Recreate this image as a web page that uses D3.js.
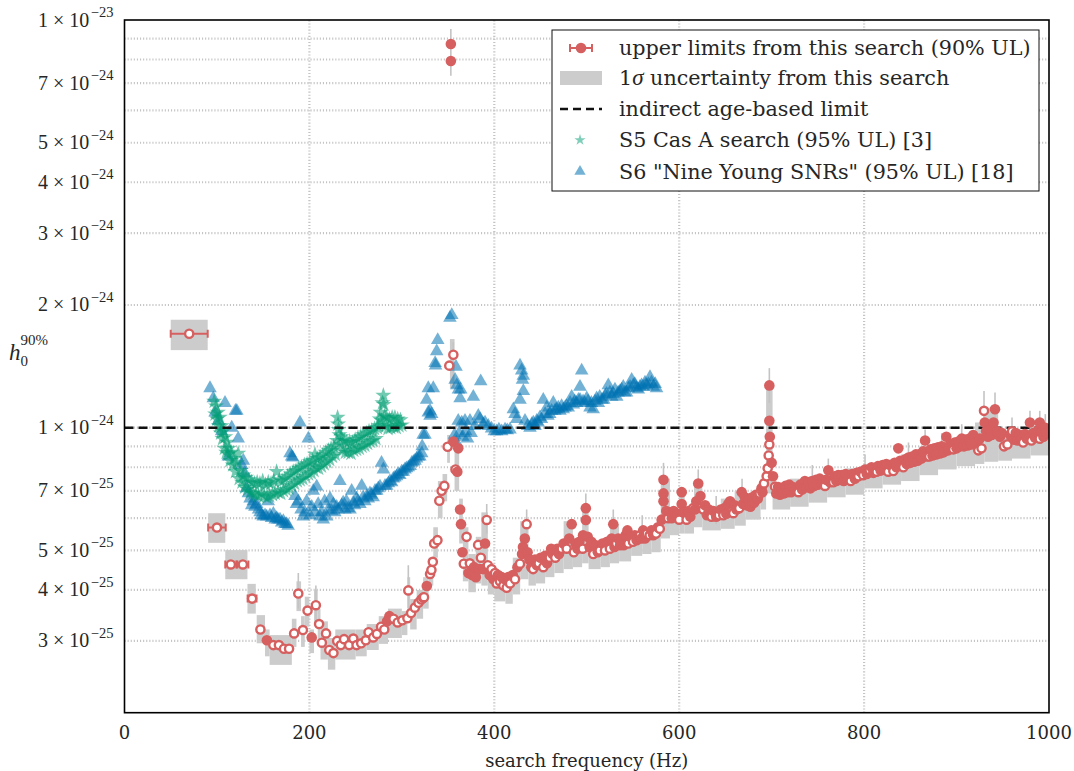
<!DOCTYPE html>
<html>
<head>
<meta charset="utf-8">
<script src="https://cdn.jsdelivr.net/npm/d3@7"></script>
<style>
  body { margin: 0; background: #fff; }
  text { font-family: "DejaVu Serif", serif; fill: #262626; }
  .math { font-family: "Liberation Serif", serif; }
</style>
</head>
<body>
<svg id="viz"></svg>
<script>
// ---- data (h0 values in units of 1e-25) ----
const xTicks = [0, 200, 400, 600, 800, 1000];
const yGridValues = [2, 3, 4, 5, 6, 7, 8, 9, 10, 20, 30, 40, 50, 60, 70, 80, 90, 100];
const yTickLabels = [3, 4, 5, 7, 10, 20, 30, 40, 50, 70, 100];
const ageLimit = 10;

// [frequency, h0, open marker]
const upperLimits = [
  [70,17.0,1],[100,5.69,1],[115,4.62,1],[128,4.62,1],[138,3.81,1],[147,3.20,1],
  [154,3.01,0],[161,2.93,1],[167,2.93,1],[172.5,2.87,1],[178,2.87,1],[183.5,3.13,1],
  [188,3.92,1],[193,3.19,1],[198,3.56,1],[202.5,3.06,0],[207,3.67,1],[210.5,3.30,1],
  [213.5,2.97,1],[218,3.13,1],[221.5,2.85,1],[226,2.80,1],[230,3.00,1],[234,2.93,1],
  [237.5,3.03,1],[243,2.93,1],[247.5,3.04,1],[251,2.93,1],[256,2.96,1],[261,3.01,1],
  [264,3.15,1],[269,3.06,1],[273,3.12,1],[277.5,3.25,1],[281,3.20,1],[284,3.35,0],
  [286.5,3.45,0],[288,3.40,0],[291,3.40,1],[295.5,3.33,1],[300.5,3.37,1],[306,3.41,1],
  [307,3.99,1],[310,3.51,1],[314,3.62,1],[318,3.72,1],[321,3.79,1],[323,3.83,0],
  [324,3.84,1],[327,4.09,0],[330.5,4.38,1],[332,4.48,1],[333.5,4.69,1],[335,5.20,1],
  [338.5,5.30,1],[340.5,6.62,1],[343,7.00,1],[346,7.20,1],[349.5,8.98,1],[351.3,14.2,1],
  [353,87.3,0],[353,79.3,0],[355.7,9.25,0],[355.7,15.1,1],[358,7.9,1],[360,7.8,0],
  [361,8.9,0],[363,6.3,0],[364,5.8,0],[365.5,4.95,0],[367,4.64,1],[370,5.4,1],
  [372,4.4,0],[373.5,4.65,1],[376,4.35,0],[378,4.55,0],[380,4.3,0],[382.5,5.16,1],
  [384,4.5,0],[385.5,4.8,1],[388,4.5,0],[390,5.2,0],[391.8,5.94,1],[393,4.6,1],
  [395,4.35,0],[397,4.5,1],[399,4.25,0],[400.8,4.4,1],[402.6,4.15,1],[404,4.35,0],
  [406,4.2,1],[408,4.3,0],[409.7,4.1,1],[411.5,4.25,0],[413.4,4.05,1],[415,4.3,0],
  [417,4.15,1],[420,4.35,0],[422.4,4.25,1],[425,4.55,0],[427.8,4.64,1],[430,4.9,0],
  [431,5.1,0],[433,5.35,0],[435,5.8,1],[436,4.95,0],[438,4.75,0],[440,4.55,0],
  [442,4.5,1],[444,4.75,0],[446,4.6,0],[448,4.65,1],[450,4.8,0],[453,4.55,1],
  [455,4.85,0],[457,4.65,0],[460,4.8,1],[461.5,5.05,0],[463,4.9,0],[466,4.8,1],
  [468,5.05,0],[470,4.9,0],[473,5.05,1],[475,5.2,0],[478.3,5.05,1],[481,5.35,0],
  [483.7,5.8,0],[486,4.95,1],[488,5.2,0],[490,5.05,0],[492,5.25,0],[495.6,5.05,1],
  [496,5.45,0],[499,6.35,0],[499,5.94,0],[501,5.4,0],[503,5.1,0],[505,5.25,0],
  [507,4.9,1],[510,5.15,0],[512,4.95,0],[514,5.0,1],[517,5.2,0],[519.7,5.0,1],
  [522,5.25,0],[525,5.05,1],[527,5.35,0],[528.7,5.8,0],[530,5.1,0],[532,5.2,1],
  [534,5.35,0],[536,5.15,0],[538,5.3,0],[540,5.15,0],[542,5.45,0],[544,5.6,0],
  [545,5.2,1],[547,5.4,0],[550,5.25,1],[552,5.45,0],[554,5.3,0],[557.6,5.45,1],
  [559,5.35,0],[561,5.6,0],[563,5.35,0],[565,5.5,1],[568,5.45,1],[570,5.6,0],
  [572,5.45,0],[575,5.5,1],[577,5.7,0],[579,5.65,1],[581,5.95,0],[583,6.6,0],
  [583,6.9,0],[583,7.45,0],[586,6.25,0],[588,6.0,1],[590,6.2,0],[592,6.0,0],
  [594,6.25,0],[596,6.1,0],[598,6.15,0],[600,5.95,1],[602.7,6.5,0],[602.7,6.95,0],
  [605,6.2,0],[608,5.95,1],[610,6.25,0],[612,6.05,0],[615,6.35,1],[617,6.3,0],
  [618.5,6.6,0],[620.6,7.3,0],[623,6.8,0],[626,6.3,1],[628,6.45,0],[630,6.1,0],
  [632,6.3,0],[635,6.05,1],[637,6.25,0],[640,6.05,0],[643,6.1,1],[645,6.3,0],
  [647.7,6.1,1],[649,6.35,0],[651,6.15,0],[653,6.5,0],[655,6.6,0],[658.5,6.17,1],
  [660,6.45,0],[662,6.3,0],[665,6.35,1],[667.6,6.95,0],[669,6.5,0],[671,6.75,0],
  [673,6.45,0],[675,6.65,0],[677,6.4,0],[679,6.75,0],[681,6.55,0],[683,6.85,0],
  [685,6.7,0],[687,6.9,1],[689,7.1,0],[690,6.95,0],[691.7,7.3,1],[694.6,7.6,1],
  [695.7,7.95,1],[696.8,8.55,1],[697.5,9.1,1],[698,9.5,0],[697.5,10.4,0],[697.5,12.7,0],
  [700,8.2,0],[701.5,7.6,0],[703.6,7.17,1],[705,6.9,0],[707,7.15,0],[709,6.85,0],
  [711,7.1,0],[713,6.9,0],[715,7.2,0],[717,6.95,0],[719,7.25,0],[721,6.95,0],
  [723,7.15,0],[726,7.0,0],[729,6.95,1],[731,7.25,0],[733,7.05,0],[736,7.4,0],
  [738,7.15,0],[740,7.35,0],[742,7.1,0],[744,7.4,0],[746,7.2,0],[748,7.45,0],
  [750,7.25,0],[752,7.5,0],[754,7.3,0],[757.7,7.2,1],[759,7.45,0],[761.3,7.86,0],
  [763,7.35,0],[766.7,7.35,1],[768,7.6,0],[770,7.4,0],[772,7.65,0],[774,7.45,0],
  [776,7.65,0],[778,7.4,0],[780,7.7,0],[782,7.5,0],[785.5,7.4,1],[787,7.7,0],
  [790,7.5,0],[792,7.75,0],[793.8,7.6,1],[796,7.8,0],[799,7.65,1],[801,7.9,0],
  [803,7.7,0],[806,7.86,1],[808,8.0,0],[810,7.75,0],[813.6,7.8,1],[815,8.05,0],
  [818,7.85,0],[820,8.1,0],[822,7.9,0],[824,8.15,0],[826,7.8,1],[828,8.1,0],
  [831.6,7.83,1],[833,8.2,0],[835,8.0,0],[837,8.9,0],[839,8.3,0],[842.4,8.0,1],
  [844,8.35,0],[846,8.15,0],[848,8.45,0],[850,8.2,0],[852,8.5,0],[854,8.25,0],
  [856,8.6,0],[858,8.3,0],[860,8.6,0],[862,8.4,0],[864,8.75,0],[866,9.3,0],
  [868,8.5,0],[870.5,8.5,1],[872,8.85,0],[874,8.55,0],[876,8.9,0],[878,8.6,0],
  [880,8.95,0],[882,8.65,0],[884,9.0,0],[886,8.7,0],[889,9.5,0],[891,8.8,0],
  [893,9.1,0],[896.5,8.85,1],[898,9.2,0],[900,8.9,0],[902,9.25,0],[904,9.0,0],
  [905.6,9.4,0],[908,9.0,0],[910,9.35,0],[912,9.05,0],[914,9.4,0],[916,9.1,0],
  [918,9.6,0],[921,9.2,0],[923.5,8.8,1],[925,9.4,0],[927,8.9,1],[929.7,11.0,1],
  [930.5,10.3,0],[932,9.8,0],[934,9.5,0],[936,9.9,0],[938,9.6,0],[940,10.3,0],
  [941.6,11.1,0],[944,9.8,0],[947,9.5,0],[949,9.7,0],[951.3,9.0,1],[955,9.1,1],
  [958,9.6,0],[960,9.8,1],[962,9.35,0],[964,9.7,0],[966,9.3,0],[968,9.6,0],
  [970,9.35,0],[972,9.2,1],[974,9.65,0],[976,9.4,0],[979.4,10.3,0],[981,9.3,1],
  [983,9.7,0],[985,9.45,0],[988,9.85,0],[990,10.3,0],[990,9.4,1],[992,9.75,0],
  [994,9.5,0],[996,10.0,0],[997.5,9.7,0]
];

// horizontal bin half-widths for the wide low-frequency bins
const wideBins = [[70, 20], [100, 9.5], [115, 6], [128, 6], [138, 4.8]];

// 1-sigma boxes: [f0, f1, lo, hi]
const sigmaBoxes = [
  [50,90,15.5,18.4],[90.5,109,5.22,6.17],[109,133,4.25,5.01],[133,142,3.50,4.14],
  [143,152,2.96,3.47],[152,157,2.75,3.2],[157,181,2.62,3.1],[181,186,2.9,3.4],
  [186,191,3.55,4.2],[191,195,2.9,3.45],[195,200,3.25,3.85],[200,205,2.8,3.2],
  [205,209,3.3,4.0],[209,212,3.0,3.6],[212,220,2.7,3.35],[220,228,2.55,3.05],
  [228,250,2.7,3.2],[250,262,2.75,3.2],[262,275,2.85,3.3],[275,285,2.95,3.45],
  [285,300,3.05,3.6],[300,306,3.1,3.55],[306,309,3.6,4.3],[309,316,3.2,3.8],
  [316,323,3.4,4.0],[323,329,3.6,4.3],[329,334,4.1,4.8],[334,339,4.8,5.7],
  [339,344,6.0,7.4],[344,349,6.6,7.7],[349,352,8.2,9.6],[352,357,12.5,16.5],
  [357,362,7.0,9.4],[362,366,5.2,6.7],[366,372,4.2,5.7],[372,380,3.95,4.9],
  [380,386,4.15,5.4],[386,393,4.1,6.2],[393,400,3.9,4.6],[400,412,3.75,4.4],
  [412,420,3.7,4.4],[420,428,3.9,4.8],[428,437,4.25,5.9],[437,445,4.1,4.8],
  [445,455,4.15,4.85],[455,465,4.3,5.0],[465,475,4.4,5.15],[475,485,4.5,5.9],
  [485,495,4.55,5.25],[495,502,4.65,6.4],[502,515,4.5,5.2],[515,525,4.55,5.25],
  [525,535,4.65,5.8],[535,548,4.7,5.4],[548,560,4.85,5.55],[560,570,4.9,5.65],
  [570,580,4.95,5.75],[580,590,5.35,7.5],[590,600,5.45,6.3],[600,606,5.5,7.0],
  [606,616,5.5,6.4],[616,625,5.7,7.3],[625,645,5.6,6.35],[645,660,5.65,6.7],
  [660,672,5.75,7.0],[672,688,5.95,6.9],[688,694,6.3,7.5],[694,701,6.9,12.8],
  [701,720,6.3,7.3],[720,740,6.4,7.5],[740,760,6.55,7.6],[760,780,6.75,7.8],
  [780,800,6.85,7.95],[800,820,7.1,8.15],[820,840,7.25,8.3],[840,860,7.4,8.6],
  [860,880,7.65,9.0],[880,900,7.9,9.2],[900,920,8.05,9.5],[920,930,8.15,10.3],
  [930,945,8.25,11.2],[945,960,8.3,9.8],[960,980,8.4,9.9],[980,1000,8.55,10.1]
];

// vertical error bars that stick out of the band: [f, lo, hi]
const whiskers = [
  [353,73,95],[355.7,12.7,16.2],[188,3.6,4.4],[207,3.3,4.1],[307,3.6,4.6],
  [391.8,5.5,6.5],[435,5.2,6.3],[499,5.7,6.9],[583,6.6,8.2],[620.6,6.6,7.9],
  [697.5,11.5,14.0],[929.7,10.2,12.3],[941.6,10.2,12.2],[866,8.6,9.9],
  [761.3,7.2,8.4],[979.4,9.6,11.0],[990,9.5,11.0],[528.7,5.3,6.3],
  [640,5.8,6.8],[668,6.3,7.5],[744,7.0,8.1],[801,7.5,8.6],[848,8.0,9.2],
  [884,8.5,9.7],[905.6,8.9,10.2],[960,9.3,10.6],[996,9.5,10.8],[560,5.2,6.1]
];

// S5 Cas A search (95% UL): [f, h0]
const s5CasA = [
  [97,11.6],[98,10.8],[99,11.3],[100,10.5],[101,10.9],[102,10.1],[103,10.6],[104,9.7],
  [105,10.1],[106,9.4],[107,9.8],[108,8.9],[109,9.5],[110,8.7],[111,9.2],[112,8.6],
  [113,8.9],[114,8.3],[115.5,8.7],[117,8.1],[118.5,8.4],[120,7.8],[121.5,8.2],[123,8.65],
  [124,7.5],[125.5,7.85],[127,7.35],[128.5,7.65],[130,7.15],[131.5,7.55],[133,7.05],[134.5,7.45],
  [136,6.95],[137.5,7.35],[139,6.9],[140.5,7.3],[142,6.85],[143.5,7.35],[145,6.8],[146.5,7.3],
  [148,6.9],[149.5,7.4],[151,6.8],[152.5,7.25],[154,6.75],[155.5,7.35],[157,6.8],[158.5,7.3],
  [160,6.85],[161.5,7.4],[163,6.9],[164.5,7.8],[166,6.95],[167.5,7.45],[169,6.9],[170.5,7.4],
  [172,7.0],[173.5,7.5],[175,7.05],[176.5,7.6],[178,7.1],[179.5,7.7],[181,7.2],[182.5,7.8],
  [184,7.3],[185.5,7.85],[187,7.4],[188.5,7.95],[190,7.45],[191.5,8.0],[193,7.5],[194.5,8.1],
  [196,7.6],[197.5,8.15],[199,7.7],[200.5,8.25],[202,7.75],[203.5,8.3],[205,7.85],[206,8.6],
  [207,8.0],[208.5,8.4],[210,7.95],[211.5,8.45],[213,8.05],[214.5,8.55],[216,8.15],[217.5,8.7],
  [219,8.25],[220.5,8.8],[222,8.35],[223.5,8.9],[225,8.5],[226.5,9.0],[228,8.6],[229.5,9.3],
  [230.5,10.6],[231,10.2],[231.5,9.9],[232.5,9.6],[233.5,9.1],[234.5,9.5],[236,8.8],[237.5,9.3],
  [239,8.7],[240.5,9.2],[242,8.7],[243.5,9.25],[245,8.65],[246.5,9.2],[248,8.8],[249.5,9.35],
  [251,8.85],[252.5,9.45],[254,8.9],[255.5,9.5],[257,9.0],[258.5,9.6],[260,9.05],[261.5,9.7],
  [263,9.15],[264.5,9.8],[266,9.25],[267.5,9.85],[269,9.3],[270.5,9.95],[272,9.4],[273.5,10.0],
  [275,10.1],[276,10.5],[277,10.9],[278,10.4],[279,11.5],[280,12.0],[280.5,11.4],[281.5,10.7],
  [282.5,10.1],[283.5,10.6],[285,9.95],[286.5,10.5],[288,10.0],[289.5,10.6],[291,10.05],[292.5,10.6],
  [294,10.0],[295.5,10.5],[297,10.1],[298.5,10.45],[300,10.15]
];

// S6 "Nine Young SNRs" (95% UL): [f, h0]
const s6Snrs = [
  [92.5,12.5],[96,11.8],[98,10.9],[101.5,10.4],[105,9.8],[108.7,11.5],[112.3,8.5],[116,10.0],
  [120,11.0],[121.5,11.0],[123,9.4],[126.8,8.1],[128.5,8.3],[130,7.73],[132,7.1],[134,6.9],
  [135.8,6.7],[137.6,6.45],[139.3,6.6],[141,6.4],[143,6.5],[145,6.3],[146.6,6.2],[148,6.1],
  [150,6.05],[152,6.1],[153.8,6.05],[155.5,6.6],[157.4,6.1],[159,6.0],[161,6.15],[163,5.95],
  [164.6,6.0],[166,5.95],[168.2,5.95],[170,5.85],[171.8,5.9],[173.5,5.8],[175.4,5.8],[177,5.75],
  [179,8.65],[180.8,8.5],[182,8.45],[184.4,6.8],[186,6.5],[188,6.6],[189.8,10.3],[191,6.3],
  [193.4,6.05],[195,6.2],[197,6.6],[198.8,9.4],[200.5,6.1],[202.5,6.4],[204.2,7.0],[206,6.2],
  [207.9,7.17],[209.5,6.5],[211.5,6.05],[213,6.2],[215,5.95],[216.5,6.6],[218.7,6.05],[220.5,6.3],
  [222.3,6.7],[224,6.25],[226,6.5],[227.5,6.2],[229.5,6.4],[231,6.3],[233,7.4],[235,6.45],
  [236.5,6.55],[238.5,6.3],[240,6.6],[242,6.35],[244,6.3],[245.7,7.0],[247.5,6.55],[249,6.45],
  [251,6.7],[252.5,6.6],[254.7,6.5],[256.6,7.2],[258,6.75],[260,6.6],[262,6.8],[263.7,6.7],
  [265.5,6.9],[267,6.85],[269,6.75],[271,7.0],[272.8,7.0],[274.5,7.1],[276.4,7.17],[278,8.2],
  [280,7.9],[281.8,7.2],[283.6,7.2],[285.5,7.3],[287.2,7.4],[289,7.35],[290.8,7.5],[292.5,7.55],
  [294.4,7.6],[296,7.7],[297.8,7.65],[299.8,7.8],[301.5,7.8],[303.4,7.9],[305,7.95],[307,8.0],
  [309,8.05],[310.7,8.2],[312.5,8.25],[314.2,8.3],[316,8.4],[317.8,8.5],[319.5,8.5],[321.5,8.65],
  [322,9.0],[323,9.6],[325,9.6],[326.8,11.7],[328.6,12.5],[328.6,10.9],[330.5,11.0],[330.5,10.7],
  [332.3,10.8],[334,12.5],[336,14.4],[336.5,14.2],[337.7,15.4],[338.8,16.4],[352,18.6],[354,18.9],
  [357.6,13.1],[358.6,14.1],[359.4,12.7],[361.2,12.4],[363,11.8],[363.7,12.4],
  [357,9.6],[359,9.2],[362,9.7],[366,9.5],[369,9.8],[371,9.4],[375,9.7],
  [361,10.4],[364.8,10.3],[368.3,10.4],[373.7,10.4],[377.3,11.9],[379,10.1],[382.7,10.7],[384.5,10.5],
  [385.3,13.0],[388,10.2],[390,10.3],[393.5,10.1],[397,9.95],[400,9.8],[402.6,9.8],[405,9.9],
  [408,9.8],[411.6,9.9],[414,9.85],[417,9.9],[420.6,11.1],[422.4,10.8],[424.2,10.5],[427.8,14.2],
  [429.6,13.8],[431.4,13.4],[430.5,13.1],[431.4,12.3],[427.8,11.7],[433.2,10.4],[436,10.1],[438.6,10.0],
  [440.5,10.2],[442.2,10.3],[444,10.1],[445.9,10.4],[447.5,10.3],[449.4,10.6],[451,10.5],[453,11.7],
  [455,10.8],[456.7,11.2],[458,10.7],[460,10.8],[462,11.0],[463.8,11.5],[465.5,11.0],[467,11.1],
  [469.2,11.2],[471,11.0],[472.8,11.3],[474.6,11.1],[476.5,11.2],[478,11.3],[480,11.2],[482,11.5],
  [483.7,11.9],[485.5,11.4],[487,11.6],[489,11.5],[491,11.7],[492.7,12.6],[492.7,11.7],[494.5,13.8],
  [496,11.6],[498,11.5],[500,11.8],[501.5,11.6],[503.5,11.2],[505,11.5],[507,11.1],[509,11.6],
  [510.7,11.8],[512.5,11.5],[514,11.9],[516.5,11.7],[518.4,11.7],[520,12.0],[521.5,12.1],[523.3,12.7],
  [525,12.2],[527,11.9],[528.5,12.1],[530.5,12.4],[532.4,11.9],[534,12.2],[536,12.3],[537.8,12.4],
  [539.5,12.6],[541,12.2],[543,12.2],[545,12.5],[546.8,12.6],[548.6,13.1],[550.3,12.7],[552,12.8],
  [554,12.5],[555.8,12.4],[557.5,12.6],[559.3,12.7],[561.2,12.6],[563,12.9],[564.8,12.7],[566.6,12.8],
  [568.4,13.3],[570,12.9],[572,12.6],[574,12.8],[575.5,12.5]
];

// ---- drawing ----
const width = 1074, height = 771;
const margin = { left: 124.5, right: 25, top: 20, bottom: 58.3 };
const red = "#d65f5f", blue = "#0072b2", green = "#009e73";

const svg = d3.select("#viz")
  .attr("width", width)
  .attr("height", height)
  .attr("viewBox", `0 0 ${width} ${height}`);

const x = d3.scaleLinear().domain([0, 1000]).range([margin.left, width - margin.right]);
const y = d3.scaleLog().domain([2, 100]).range([height - margin.bottom, margin.top]);

svg.append("defs").append("clipPath").attr("id", "plot")
  .append("rect")
  .attr("x", x(0)).attr("y", y(100))
  .attr("width", x(1000) - x(0)).attr("height", y(2) - y(100));

// grid
const grid = svg.append("g")
  .attr("stroke", "#c4c4c4")
  .attr("stroke-width", 2.2)
  .attr("stroke-dasharray", "1.1,2");
grid.selectAll(".gy").data(yGridValues.filter(v => v > 2 && v < 100)).join("line")
  .attr("x1", x(0)).attr("x2", x(1000))
  .attr("y1", d => y(d)).attr("y2", d => y(d));
grid.selectAll(".gx").data(xTicks.filter(v => v > 0 && v < 1000)).join("line")
  .attr("x1", d => x(d)).attr("x2", d => x(d))
  .attr("y1", y(2)).attr("y2", y(100));

const plot = svg.append("g").attr("clip-path", "url(#plot)");

// 1 sigma boxes
plot.append("g").attr("fill", "#cccccc")
  .selectAll("rect").data(sigmaBoxes).join("rect")
  .attr("x", d => x(d[0]))
  .attr("width", d => x(d[1]) - x(d[0]))
  .attr("y", d => y(d[3]))
  .attr("height", d => y(d[2]) - y(d[3]));

plot.append("g").attr("stroke", "#c4c4c4").attr("stroke-width", 1.6)
  .selectAll("line").data(whiskers).join("line")
  .attr("x1", d => x(d[0])).attr("x2", d => x(d[0]))
  .attr("y1", d => y(d[1])).attr("y2", d => y(d[2]));

// S6 triangles
const tri = d3.symbol().type(d3.symbolTriangle).size(80);
plot.append("g").attr("fill", blue).attr("fill-opacity", 0.55)
  .selectAll("path").data(s6Snrs).join("path")
  .attr("d", tri)
  .attr("transform", d => `translate(${x(d[0])},${y(d[1])})`);

// S5 stars
const star = d3.symbol().type(d3.symbolStar).size(80);
plot.append("g").attr("fill", green).attr("fill-opacity", 0.55)
  .selectAll("path").data(s5CasA).join("path")
  .attr("d", star)
  .attr("transform", d => `translate(${x(d[0])},${y(d[1])})`);

// indirect age-based limit
plot.append("line")
  .attr("x1", x(0)).attr("x2", x(1000))
  .attr("y1", y(ageLimit)).attr("y2", y(ageLimit))
  .attr("stroke", "#111").attr("stroke-width", 2.5)
  .attr("stroke-dasharray", "9,5");

// horizontal error bars of the wide bins
const xerr = plot.append("g").attr("stroke", red).attr("stroke-width", 2);
wideBins.forEach(([f, hw]) => {
  const pt = upperLimits.find(d => d[0] === f);
  const yy = y(pt[1]);
  xerr.append("line").attr("x1", x(f - hw)).attr("x2", x(f + hw)).attr("y1", yy).attr("y2", yy);
  [f - hw, f + hw].forEach(e => xerr.append("line")
    .attr("x1", x(e)).attr("x2", x(e)).attr("y1", yy - 4).attr("y2", yy + 4));
});

// upper limits
plot.append("g").selectAll("circle").data(upperLimits).join("circle")
  .attr("cx", d => x(d[0]))
  .attr("cy", d => y(d[1]))
  .attr("r", d => d[2] ? 4.1 : 5.3)
  .attr("fill", d => d[2] ? "#fff" : red)
  .attr("stroke", d => d[2] ? red : "none")
  .attr("stroke-width", 2.4);

// frame
svg.append("rect")
  .attr("x", x(0)).attr("y", y(100))
  .attr("width", x(1000) - x(0)).attr("height", y(2) - y(100))
  .attr("fill", "none").attr("stroke", "#000").attr("stroke-width", 1.6);

// x ticks
svg.append("g").selectAll("text").data(xTicks).join("text")
  .attr("x", d => x(d)).attr("y", y(2) + 26)
  .attr("text-anchor", "middle")
  .style("font-size", "18px")
  .text(d => d);

svg.append("text")
  .attr("x", (x(0) + x(1000)) / 2).attr("y", 767)
  .attr("text-anchor", "middle")
  .style("font-size", "18px")
  .text("search frequency (Hz)");

// y ticks as "m × 10^e"
const yt = svg.append("g").selectAll("text").data(yTickLabels).join("text")
  .attr("class", "math")
  .attr("x", x(0) - 11)
  .attr("y", d => y(d) + 6.5)
  .attr("text-anchor", "end")
  .style("font-size", "20px");
yt.append("tspan").text(d => {
  const e = Math.floor(Math.log10(d) + 1e-9);
  return `${Math.round(d / Math.pow(10, e))} \u00d7 10`;
});
yt.append("tspan").attr("dx", 1.5).attr("dy", -9.5).style("font-size", "14.5px")
  .text(d => `\u2212${25 - Math.floor(Math.log10(d) + 1e-9)}`);

// y label
const yl = svg.append("text").attr("class", "math").attr("x", 9).attr("y", 360)
  .style("font-size", "23px");
yl.append("tspan").style("font-style", "italic").text("h");
yl.append("tspan").attr("dy", 6).style("font-size", "15px").text("0");
yl.append("tspan").attr("dx", -7.5).attr("dy", -21).style("font-size", "15px").text("90%");

// legend
const lg = svg.append("g");
lg.append("rect")
  .attr("x", 552).attr("y", 30).attr("width", 487).attr("height", 161)
  .attr("fill", "#fff").attr("stroke", "#111").attr("stroke-width", 1);
const rows = [48, 78, 109, 140, 171.5];
const labels = [
  "upper limits from this search (90% UL)",
  null,
  "indirect age-based limit",
  "S5 Cas A search (95% UL) [3]",
  "S6 \"Nine Young SNRs\" (95% UL) [18]"
];
const legendFont = "20.7px";
labels.forEach((t, i) => {
  if (t) lg.append("text").attr("x", 619).attr("y", rows[i] + 7).style("font-size", legendFont).text(t);
});
const sig = lg.append("text").attr("x", 619).attr("y", rows[1] + 7).style("font-size", legendFont);
sig.append("tspan").text("1");
sig.append("tspan").attr("class", "math").style("font-style", "italic").style("font-size", "23px").text("\u03c3");
sig.append("tspan").text(" uncertainty from this search");

lg.append("line").attr("x1", 570).attr("x2", 592).attr("y1", rows[0]).attr("y2", rows[0])
  .attr("stroke", red).attr("stroke-width", 2);
[570, 592].forEach(e => lg.append("line").attr("x1", e).attr("x2", e)
  .attr("y1", rows[0] - 4).attr("y2", rows[0] + 4).attr("stroke", red).attr("stroke-width", 2));
lg.append("circle").attr("cx", 581).attr("cy", rows[0]).attr("r", 5.3).attr("fill", red);
lg.append("rect").attr("x", 560).attr("y", rows[1] - 7).attr("width", 42).attr("height", 14)
  .attr("fill", "#cccccc");
lg.append("line").attr("x1", 560).attr("x2", 602).attr("y1", rows[2]).attr("y2", rows[2])
  .attr("stroke", "#111").attr("stroke-width", 2.5).attr("stroke-dasharray", "8,5");
lg.append("path").attr("d", d3.symbol().type(d3.symbolStar).size(40)).attr("transform", `translate(580,${rows[3]})`)
  .attr("fill", green).attr("fill-opacity", 0.5);
lg.append("path").attr("d", d3.symbol().type(d3.symbolTriangle).size(56)).attr("transform", `translate(580,${rows[4]})`)
  .attr("fill", blue).attr("fill-opacity", 0.55);
</script>
</body>
</html>
